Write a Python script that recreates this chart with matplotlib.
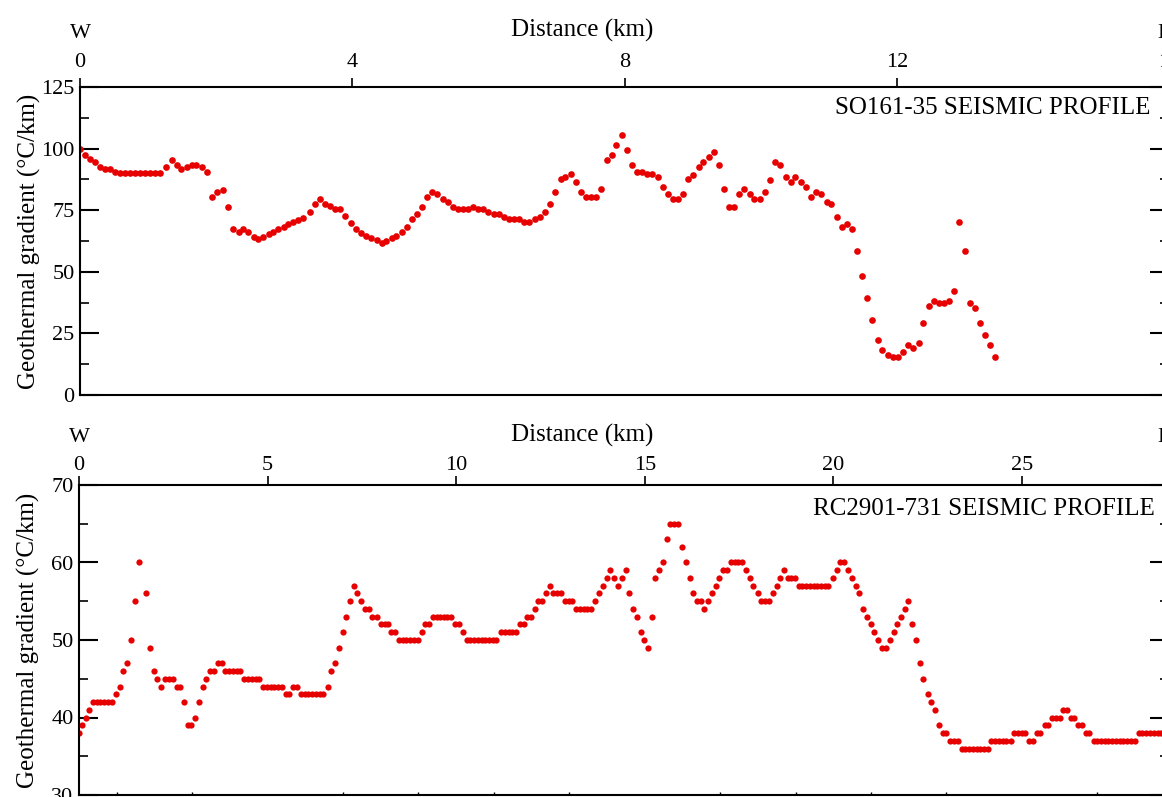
"""
Geothermal gradient along two seismic profiles (SO161-35 and RC2901-731).
"""
import matplotlib
matplotlib.use("Agg")
import matplotlib.pyplot as plt
from matplotlib.ticker import MultipleLocator, FixedLocator

plt.rcParams['font.family'] = ['Liberation Serif', 'DejaVu Serif']

# --- SO161-35 profile (upper panel) ---
top_km = [
    0.00, 0.07, 0.15, 0.22, 0.29, 0.37, 0.44, 0.51, 0.59, 0.66, 0.73, 0.81, 0.88, 0.95, 1.03, 1.10, 1.18,
    1.27, 1.35, 1.42, 1.49, 1.57, 1.64, 1.71, 1.79, 1.87, 1.94, 2.02, 2.10, 2.17, 2.25, 2.33, 2.40,
    2.47, 2.55, 2.62, 2.69, 2.77, 2.84, 2.91, 2.99, 3.06, 3.13, 3.21, 3.28, 3.38, 3.45, 3.53, 3.60,
    3.67, 3.75, 3.82, 3.90, 3.98, 4.05, 4.13, 4.20, 4.28, 4.36, 4.43, 4.50, 4.58, 4.65, 4.73, 4.81,
    4.88, 4.95, 5.03, 5.10, 5.17, 5.25, 5.33, 5.40, 5.48, 5.55, 5.63, 5.70, 5.78, 5.85, 5.92, 6.00,
    6.08, 6.15, 6.23, 6.30, 6.37, 6.45, 6.53, 6.60, 6.68, 6.76, 6.83, 6.91, 6.98, 7.06, 7.13, 7.21,
    7.29, 7.36, 7.43, 7.51, 7.58, 7.66, 7.74, 7.81, 7.88, 7.96, 8.03, 8.11, 8.19, 8.26, 8.33, 8.41,
    8.49, 8.56, 8.64, 8.71, 8.78, 8.86, 8.94, 9.01, 9.09, 9.16, 9.24, 9.31, 9.39, 9.46, 9.54, 9.61,
    9.68, 9.76, 9.84, 9.91, 9.99, 10.06, 10.14, 10.21, 10.29, 10.37, 10.44, 10.51, 10.59, 10.66, 10.74, 10.81,
    10.89, 10.97, 11.04, 11.12, 11.19, 11.27, 11.34, 11.42, 11.49, 11.56, 11.64, 11.72, 11.79, 11.87, 11.94, 12.02,
    12.09, 12.17, 12.24, 12.32, 12.39, 12.47, 12.54, 12.62, 12.70, 12.77, 12.84, 12.92, 13.00, 13.07, 13.15, 13.22,
    13.30, 13.37, 13.45,
]
top_grad = [
    99.8, 97.4, 95.6, 94.4, 92.7, 91.6, 91.6, 90.4, 90, 90, 90, 90, 90, 90, 90, 90, 90,
    92.4, 95.4, 93.3, 91.6, 92.7, 93.5, 93.5, 92.7, 90.4, 80.2, 82.2, 83.3, 76.4, 67.4, 66.3, 67.4,
    66.3, 64.3, 63.2, 64.3, 65.2, 66.3, 67.2, 68.2, 69.3, 70.2, 71.0, 72.0, 74.3, 77.5, 79.4, 77.5,
    76.7, 75.5, 75.5, 72.6, 69.7, 67.5, 65.6, 64.7, 63.7, 62.8, 61.6, 62.6, 63.6, 64.5, 66.3, 68.3,
    71.3, 73.3, 76.4, 80.5, 82.5, 81.5, 79.4, 78.4, 76.4, 75.4, 75.4, 75.4, 76.4, 75.4, 75.4, 74.4,
    73.3, 73.3, 72.4, 71.3, 71.3, 71.3, 70.3, 70.3, 71.3, 72.4, 74.4, 77.4, 82.5, 87.5, 88.6, 89.7,
    86.4, 82.5, 80.5, 80.5, 80.5, 83.5, 95.4, 97.4, 101.5, 105.5, 99.4, 93.3, 90.5, 90.5, 89.7, 89.7,
    88.3, 84.3, 81.5, 79.4, 79.4, 81.5, 87.5, 89.4, 92.4, 94.4, 96.4, 98.5, 93.3, 83.5, 76.4, 76.4,
    81.5, 83.5, 81.5, 79.4, 79.4, 82.3, 87.2, 94.4, 93.4, 88.3, 86.3, 88.3, 86.3, 84.3, 80.3, 82.3,
    81.5, 78.3, 77.4, 72.4, 68.3, 69.4, 67.4, 58.3, 48.3, 39.4, 30.3, 22.3, 18.3, 16.2, 15.3, 15.3,
    17.3, 20.3, 19.2, 21.2, 29.2, 36.3, 38.3, 37.3, 37.3, 38.3, 42.3, 70.3, 58.3, 37.3, 35.3, 29.2,
    24.2, 20.2, 15.3,
]

# --- RC2901-731 profile (lower panel) ---
bot_km = [
    0.00, 0.09, 0.19, 0.27, 0.38, 0.48, 0.57, 0.67, 0.77, 0.87, 0.97, 1.08, 1.17, 1.27, 1.38, 1.48,
    1.58, 1.77, 1.87, 1.98, 2.07, 2.18, 2.28, 2.38, 2.48, 2.59, 2.68, 2.78, 2.88, 2.97, 3.08, 3.18,
    3.28, 3.38, 3.48, 3.58, 3.68, 3.78, 3.88, 3.97, 4.07, 4.18, 4.28, 4.38, 4.48, 4.58, 4.68, 4.78,
    4.88, 4.98, 5.08, 5.17, 5.28, 5.38, 5.48, 5.58, 5.68, 5.78, 5.88, 5.98, 6.08, 6.18, 6.28, 6.38,
    6.48, 6.59, 6.68, 6.78, 6.89, 6.99, 7.08, 7.18, 7.28, 7.38, 7.48, 7.58, 7.68, 7.78, 7.89,
    8.00, 8.10, 8.19, 8.28, 8.39, 8.48, 8.58, 8.68, 8.78, 8.87, 8.98, 9.09, 9.18, 9.28, 9.39, 9.48,
    9.58, 9.68, 9.77, 9.87, 9.97, 10.07, 10.19, 10.29, 10.38, 10.48, 10.58, 10.68, 10.77, 10.87, 10.97, 11.06,
    11.20, 11.29, 11.39, 11.49, 11.58, 11.68, 11.79, 11.89, 11.99, 12.09, 12.18, 12.28, 12.39, 12.48, 12.58, 12.68,
    12.79, 12.88, 12.98, 13.08, 13.18, 13.28, 13.38, 13.48, 13.58, 13.69, 13.78, 13.89, 13.99, 14.08, 14.19, 14.29,
    14.39, 14.49, 14.59, 14.68, 14.79, 14.89, 14.99, 15.09, 15.19, 15.28, 15.39, 15.49, 15.58, 15.68, 15.78, 15.89,
    15.99, 16.09, 16.19, 16.28, 16.39, 16.48, 16.58, 16.69, 16.79, 16.88, 16.98, 17.08, 17.18, 17.28, 17.38, 17.48,
    17.58, 17.69, 17.78, 17.88, 17.99, 18.08, 18.19, 18.29, 18.39, 18.50, 18.59, 18.69, 18.79, 18.89, 18.99, 19.08,
    19.18, 19.28, 19.37, 19.48, 19.58, 19.67, 19.77, 19.87, 19.99, 20.10, 20.19, 20.29, 20.39, 20.50, 20.59, 20.69,
    20.79, 20.89, 21.00, 21.09, 21.19, 21.29, 21.40, 21.49, 21.60, 21.70, 21.79, 21.90, 21.99, 22.09, 22.19, 22.30,
    22.39, 22.50, 22.60, 22.70, 22.80, 22.90, 23.00, 23.10, 23.21, 23.30, 23.40, 23.50, 23.59, 23.70, 23.80, 23.89,
    23.99, 24.10, 24.19, 24.29, 24.39, 24.50, 24.59, 24.70, 24.79, 24.90, 25.00, 25.09, 25.19, 25.30, 25.40, 25.49,
    25.60, 25.70, 25.79, 25.90, 26.00, 26.09, 26.20, 26.30, 26.39, 26.49, 26.60, 26.69, 26.79, 26.90, 26.99, 27.09,
    27.20, 27.29, 27.39, 27.49, 27.59, 27.69, 27.79, 27.89, 27.99, 28.10, 28.19, 28.30, 28.40, 28.49, 28.60, 28.69,
]
bot_grad = [
    38, 39, 40, 41, 42, 42, 42, 42, 42, 42, 43, 44, 46, 47, 50, 55,
    60, 56, 49, 46, 45, 44, 45, 45, 45, 44, 44, 42, 39, 39, 40, 42,
    44, 45, 46, 46, 47, 47, 46, 46, 46, 46, 46, 45, 45, 45, 45, 45,
    44, 44, 44, 44, 44, 44, 43, 43, 44, 44, 43, 43, 43, 43, 43, 43,
    43, 44, 46, 47, 49, 51, 53, 55, 57, 56, 55, 54, 54, 53, 53,
    52, 52, 52, 51, 51, 50, 50, 50, 50, 50, 50, 51, 52, 52, 53, 53,
    53, 53, 53, 53, 52, 52, 51, 50, 50, 50, 50, 50, 50, 50, 50, 50,
    51, 51, 51, 51, 51, 52, 52, 53, 53, 54, 55, 55, 56, 57, 56, 56,
    56, 55, 55, 55, 54, 54, 54, 54, 54, 55, 56, 57, 58, 59, 58, 57,
    58, 59, 56, 54, 53, 51, 50, 49, 53, 58, 59, 60, 63, 65, 65, 65,
    62, 60, 58, 56, 55, 55, 54, 55, 56, 57, 58, 59, 59, 60, 60, 60,
    60, 59, 58, 57, 56, 55, 55, 55, 56, 57, 58, 59, 58, 58, 58, 57,
    57, 57, 57, 57, 57, 57, 57, 57, 58, 59, 60, 60, 59, 58, 57, 56,
    54, 53, 52, 51, 50, 49, 49, 50, 51, 52, 53, 54, 55, 52, 50, 47,
    45, 43, 42, 41, 39, 38, 38, 37, 37, 37, 36, 36, 36, 36, 36, 36,
    36, 36, 37, 37, 37, 37, 37, 37, 38, 38, 38, 38, 37, 37, 38, 38,
    39, 39, 40, 40, 40, 41, 41, 40, 40, 39, 39, 38, 38, 37, 37, 37,
    37, 37, 37, 37, 37, 37, 37, 37, 37, 38, 38, 38, 38, 38, 38, 38,
]

top_xticks = [0, 4, 8, 12, 16]
bot_xticks = [0, 5, 10, 15, 20, 25]
bot_bottom_ticks = [1, 3, 5, 7, 9, 11, 13, 15, 17, 19, 21, 23, 25, 27]

RED = '#e60000'
FS = 16      # tick labels, W / E
FS_BIG = 18  # axis titles and profile names

W, H = 1162, 797


def style_axes(ax, xticks, ymajor, yminor, label_pad):
    """Frame, inward y ticks on both sides, outward x ticks on top."""
    for s in ax.spines.values():
        s.set_linewidth(1.5)
    ax.xaxis.tick_top()
    ax.set_xticks(xticks)
    ax.xaxis.set_major_formatter(plt.FuncFormatter(lambda v, p: f"{v:g}"))
    ax.tick_params(axis='x', which='major', direction='out', length=6.5, width=1.2,
                   labelsize=FS, pad=label_pad, top=True, bottom=False)
    ax.yaxis.set_major_locator(MultipleLocator(ymajor))
    ax.yaxis.set_minor_locator(MultipleLocator(yminor))
    ax.tick_params(axis='y', which='major', direction='in', length=13.5, width=1.5,
                   labelsize=FS, pad=4, left=True, right=True)
    ax.tick_params(axis='y', which='minor', direction='in', length=6.5, width=1.2,
                   left=True, right=True)
    ax.set_ylabel('Geothermal gradient (°C/km)', fontsize=FS_BIG)


def main():
    fig = plt.figure(figsize=(W / 100, H / 100), dpi=100)

    # upper panel, frame runs a bit past the right edge of the picture
    ax1 = fig.add_axes([80 / W, (H - 395) / H, 1089 / W, 308 / H])
    ax1.plot(top_km, top_grad, 'o', color=RED, ms=4.8, mec='none')
    ax1.set_xlim(0, 16)
    ax1.set_ylim(0, 125)
    style_axes(ax1, top_xticks, 25, 12.5, 4.5)
    ax1.yaxis.set_label_coords(-0.036, 0.5)
    ax1.text(0.0, 1.175, 'W', transform=ax1.transAxes, ha='center', va='center', fontsize=FS)
    ax1.text(0.996, 1.175, 'E', transform=ax1.transAxes, ha='center', va='center', fontsize=FS)
    ax1.text(0.4614, 1.183, 'Distance (km)', transform=ax1.transAxes, ha='center', va='center',
             fontsize=FS_BIG)
    ax1.text(0.9826, 0.932, 'SO161-35 SEISMIC PROFILE', transform=ax1.transAxes,
             ha='right', va='center', fontsize=FS_BIG)

    # lower panel
    ax2 = fig.add_axes([79 / W, 2 / H, 1090 / W, 310 / H])
    ax2.plot(bot_km, bot_grad, 'o', color=RED, ms=4.5, mec='none')
    ax2.set_xlim(0, 28.9)
    ax2.set_ylim(30, 70)
    style_axes(ax2, bot_xticks, 10, 5, 0.5)
    ax2.xaxis.set_minor_locator(FixedLocator(bot_bottom_ticks))
    ax2.tick_params(axis='x', which='minor', direction='in', length=2.5, width=1.0,
                    bottom=True, top=False)
    ax2.yaxis.set_label_coords(-0.036, 0.5)
    ax2.text(0.0, 1.152, 'W', transform=ax2.transAxes, ha='center', va='center', fontsize=FS)
    ax2.text(0.996, 1.152, 'E', transform=ax2.transAxes, ha='center', va='center', fontsize=FS)
    ax2.text(0.4614, 1.16, 'Distance (km)', transform=ax2.transAxes, ha='center', va='center',
             fontsize=FS_BIG)
    ax2.text(0.987, 0.923, 'RC2901-731 SEISMIC PROFILE', transform=ax2.transAxes,
             ha='right', va='center', fontsize=FS_BIG)

    fig.savefig('out.png', dpi=100)
    plt.close(fig)


if __name__ == "__main__":
    main()
